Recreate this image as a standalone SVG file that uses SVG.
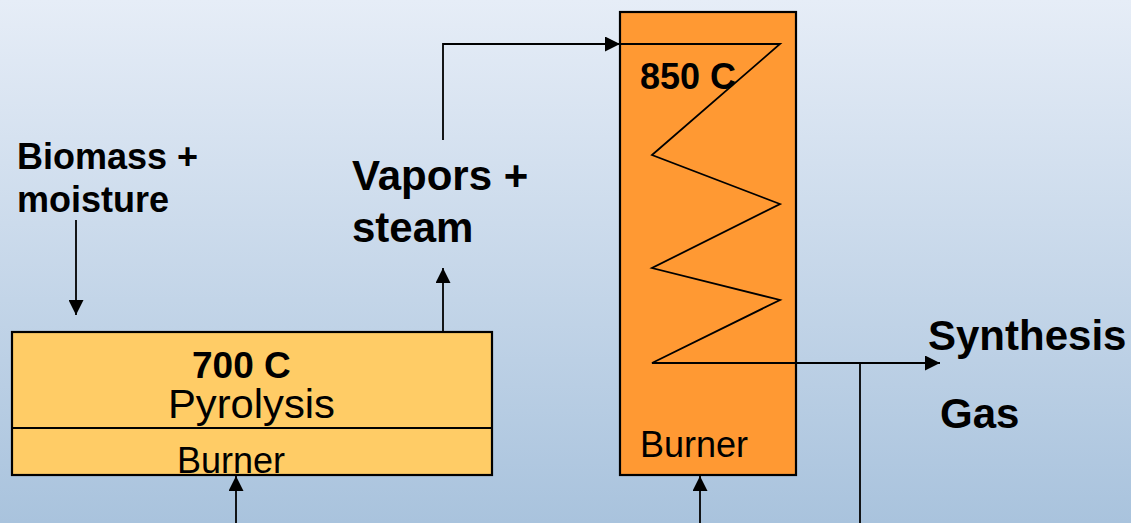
<svg xmlns="http://www.w3.org/2000/svg" width="1131" height="523" viewBox="0 0 1131 523">
  <defs>
    <linearGradient id="bg" x1="0" y1="0" x2="0" y2="1">
      <stop offset="0" stop-color="#e6edf7"/>
      <stop offset="1" stop-color="#a9c3dd"/>
    </linearGradient>
    <marker id="arr" markerUnits="userSpaceOnUse" markerWidth="15" markerHeight="15" refX="15" refY="7.5" orient="auto">
      <path d="M0,0 L15,7.5 L0,15 Z" fill="#000"/>
    </marker>
    <style>
      .box { stroke: #000; stroke-width: 2.2; }
      .line { fill: none; stroke: #000; stroke-width: 1.8; }
      .b { font-family: "Liberation Sans", Arial, sans-serif; font-weight: bold; fill: #000; }
      .r { font-family: "Liberation Sans", Arial, sans-serif; fill: #000; }
    </style>
  </defs>
  <rect x="0" y="0" width="1131" height="523" fill="url(#bg)"/>

  <g id="pyrolysis">
    <rect class="box" x="12" y="332" width="480" height="143" fill="#ffcc66"/>
    <line class="box" x1="12" y1="428" x2="492" y2="428"/>
    <text class="b" x="192" y="378" font-size="37">700 C</text>
    <text class="r" x="168" y="418" font-size="40" textLength="167" lengthAdjust="spacingAndGlyphs">Pyrolysis</text>
    <text class="r" x="177" y="473" font-size="36">Burner</text>
  </g>

  <g id="reformer">
    <rect class="box" x="620" y="12" width="176" height="463" fill="#ff9933"/>
    <text class="b" x="640" y="89" font-size="36">850 C</text>
    <text class="r" x="640" y="457" font-size="36">Burner</text>
  </g>

  <g id="label-biomass">
    <text class="b" x="17" y="169" font-size="36">Biomass +</text>
    <text class="b" x="17" y="212" font-size="36">moisture</text>
  </g>
  <g id="label-vapors">
    <text class="b" x="352" y="190" font-size="42">Vapors +</text>
    <text class="b" x="352" y="242" font-size="42">steam</text>
  </g>
  <g id="label-syngas">
    <text class="b" x="928" y="350" font-size="42">Synthesis</text>
    <text class="b" x="940" y="428" font-size="42">Gas</text>
  </g>

  <g id="connectors">
    <path class="line" d="M76,220 L76,315" marker-end="url(#arr)"/>
    <path class="line" d="M443,332 L443,268" marker-end="url(#arr)"/>
    <path class="line" d="M443,140 L443,44 L620,44" marker-end="url(#arr)"/>
    <path class="line" d="M236,523 L236,476" marker-end="url(#arr)"/>
    <path class="line" d="M700,523 L700,476" marker-end="url(#arr)"/>
    <path class="line" d="M620,44 L780,44 L652,155 L780,204 L652,268 L780,300 L652,363 L940,363" marker-end="url(#arr)"/>
    <path class="line" d="M860,363 L860,523"/>
  </g>
</svg>
